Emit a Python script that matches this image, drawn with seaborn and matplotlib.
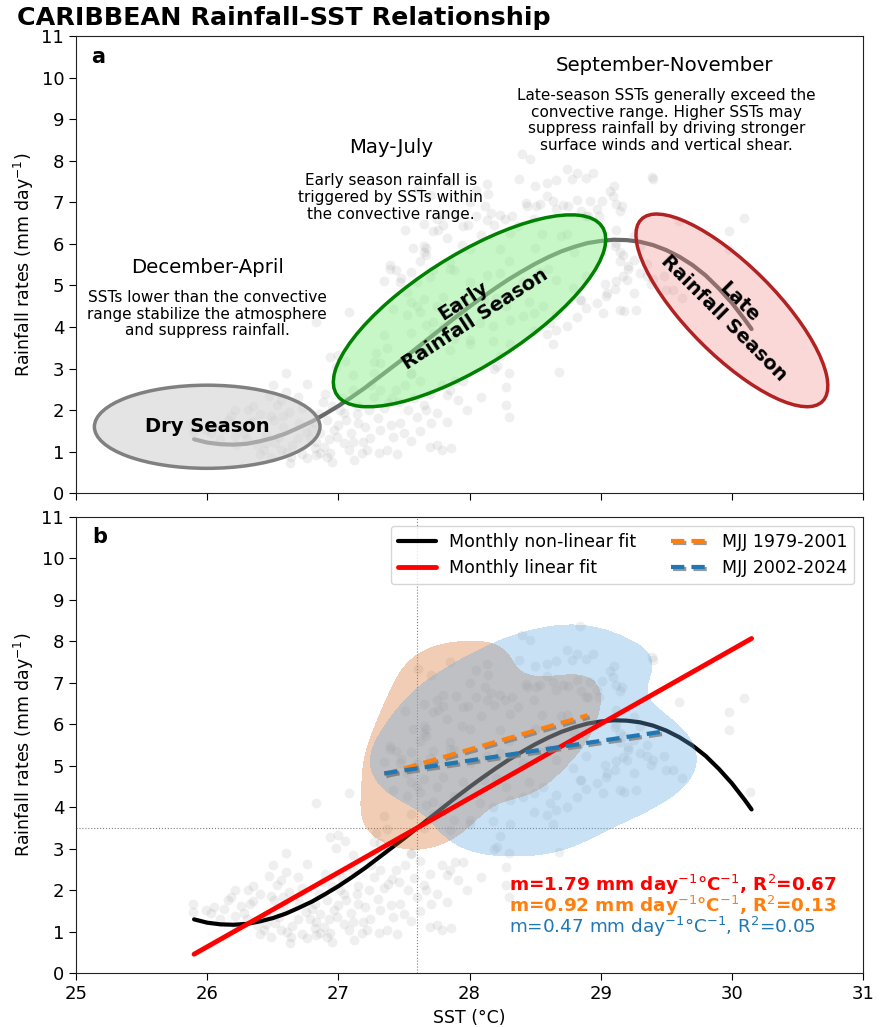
import numpy as np
import pandas as pd
import seaborn as sns
import matplotlib.pyplot as plt
import matplotlib.patheffects as pe
from matplotlib.patches import Ellipse
from matplotlib.colors import ListedColormap

# monthly points outside MJJ
other_sst = [25.89, 25.89, 25.99, 26.03, 26.16, 26.21, 26.31, 26.21, 26.26, 26.33,
             26.40, 26.49, 26.51, 26.38, 26.43, 26.49, 26.56, 26.61, 26.64, 26.63,
             26.69, 26.75, 26.78, 26.83, 26.82, 26.86, 26.91, 26.89, 26.97, 26.99,
             27.04, 27.06, 27.01, 27.04, 27.08, 27.11, 27.19, 27.22, 27.18, 27.15,
             27.23, 27.27, 27.32, 27.11, 27.11, 27.41, 27.38, 27.44, 27.27, 27.32,
             27.27, 27.47, 27.50, 27.42, 27.32, 27.24, 27.31, 27.37, 27.55, 27.51,
             27.53, 27.60, 27.65, 27.67, 27.79, 27.85, 27.83, 27.89, 27.95, 27.91,
             27.75, 27.71, 27.83, 27.70, 27.75, 27.79, 27.86, 26.91, 26.82, 26.86,
             26.76, 26.60, 26.56, 26.53, 26.69, 26.83, 27.08, 27.00, 27.05, 26.94,
             26.98, 26.94, 26.83, 27.29, 27.37, 26.13, 26.30, 26.45, 26.58, 26.70,
             26.62, 26.47, 26.35, 26.95, 27.15, 26.90, 26.72, 26.52, 26.40, 26.22,
             26.95, 27.12, 27.45, 27.55, 27.62,
             26.05, 26.10, 26.18, 26.28, 26.35, 26.45, 26.55, 26.58, 26.65, 26.72,
             26.80, 26.85, 26.88, 26.93, 27.00, 27.03, 27.10, 27.14, 27.20, 27.25,
             27.30, 27.35, 27.40, 27.46, 27.58, 27.62, 27.70, 26.60, 26.50, 26.76,
             29.60, 30.09, 29.98, 29.98, 29.62, 30.14, 29.15, 29.12, 29.25, 29.35,
             29.30, 29.21, 29.40, 29.38, 29.12, 29.11, 29.03, 29.04, 29.18, 29.27,
             29.55, 29.11, 29.15, 29.21, 29.25, 29.17, 29.12, 29.12, 29.17, 29.39,
             29.07, 29.01, 28.97, 28.85, 28.89, 29.09, 29.16, 28.82, 28.92, 28.71,
             28.64, 28.82, 28.89, 28.59, 28.66, 28.51, 28.43, 28.23, 28.32, 28.13,
             28.19, 28.12, 27.76, 27.67, 27.44, 27.48, 27.39, 28.89, 28.82, 28.66,
             28.68, 28.30, 28.19, 28.28, 28.30, 28.28, 28.09, 27.98, 28.21, 27.55,
             27.85, 28.00, 27.80, 27.95, 27.88, 27.95, 28.85,
             28.84, 28.40, 28.46, 28.23]
other_rain = [1.66, 1.48, 1.52, 1.46, 1.76, 2.00, 2.00, 1.37, 1.62, 1.68,
              1.90, 1.86, 1.76, 1.16, 1.04, 0.88, 1.04, 1.00, 0.88, 0.72,
              1.32, 1.48, 1.32, 1.24, 1.08, 0.96, 0.88, 1.12, 1.52, 1.36,
              1.92, 1.76, 2.00, 1.20, 1.04, 1.24, 1.24, 1.04, 0.96, 1.68,
              2.00, 2.32, 2.49, 2.85, 2.49, 2.28, 2.16, 2.49, 2.89, 3.13,
              3.17, 1.68, 1.44, 1.36, 1.52, 1.32, 0.96, 1.04, 2.89, 2.61,
              2.00, 1.84, 2.12, 2.00, 2.61, 2.49, 2.36, 2.69, 2.69, 2.24,
              1.92, 1.68, 1.72, 1.12, 1.16, 1.04, 1.08, 1.76, 1.68, 1.44,
              2.63, 2.44, 2.24, 2.12, 2.31, 4.11, 4.35, 3.33, 3.19, 3.29,
              3.03, 0.96, 0.92, 3.37, 3.49, 1.55, 1.30, 1.40, 1.60, 1.70,
              1.95, 2.35, 2.10, 2.10, 2.10, 2.40, 0.95, 1.22, 0.95, 1.15,
              0.75, 0.80, 0.95, 1.25, 1.50,
              1.60, 1.30, 1.85, 1.45, 1.75, 1.20, 1.35, 1.85, 1.15, 2.05,
              1.55, 1.90, 2.20, 1.30, 1.65, 2.30, 1.45, 1.90, 1.60, 2.60,
              1.80, 2.05, 1.65, 2.20, 2.30, 2.70, 2.40, 2.90, 2.60, 0.85,
              6.55, 6.63, 6.31, 5.87, 4.70, 4.38, 6.80, 6.95, 6.19, 5.51,
              5.31, 5.39, 5.15, 5.03, 5.11, 4.91, 5.03, 4.74, 4.38, 4.42,
              4.90, 5.94, 5.58, 5.46, 5.62, 5.22, 6.34, 6.02, 5.73, 7.62,
              7.28, 7.04, 6.84, 6.80, 6.67, 7.14, 6.90, 7.06, 7.02, 6.94,
              7.02, 7.70, 7.58, 7.46, 7.54, 6.90, 6.98, 6.70, 6.66, 6.58,
              6.46, 6.90, 6.34, 5.90, 5.37, 5.17, 5.49, 4.45, 4.25, 3.93,
              2.92, 2.89, 3.00, 2.56, 1.84, 2.12, 2.32, 2.00, 3.05, 2.88,
              3.45, 3.69, 4.01, 4.33, 5.38, 6.42, 4.66,
              8.38, 8.16, 8.04, 3.30]

# MJJ 1979-2001
early_sst = [27.35, 27.65, 27.55, 27.72, 27.88, 27.67, 27.52, 27.62, 27.72, 27.88,
             27.42, 27.60, 27.52, 27.65, 27.80, 27.95, 27.47, 27.60, 28.00, 28.13,
             27.39, 27.55, 27.72, 27.85, 27.57, 27.67, 27.65, 28.00, 27.83, 27.94,
             28.09, 27.51, 27.65, 27.80, 27.99, 27.90, 27.75, 28.00, 27.71, 27.61,
             28.13, 28.31, 28.44, 28.75, 28.90, 28.41, 28.54, 27.85, 28.05,
             28.30, 28.50, 28.70, 28.60, 28.20, 28.45, 28.80]
early_rain = [3.80, 3.50, 3.85, 3.85, 3.70, 4.05, 4.28, 4.36, 4.12, 4.28,
              4.43, 4.51, 4.84, 4.68, 4.72, 4.60, 5.08, 5.08, 5.08, 5.24,
              5.40, 5.33, 5.37, 5.57, 5.89, 5.73, 5.96, 5.88, 6.13, 5.97,
              6.21, 6.33, 6.49, 6.45, 6.45, 6.69, 6.60, 7.01, 7.18, 7.33,
              7.45, 6.25, 6.90, 6.92, 6.67, 5.08, 5.33, 7.50, 7.30,
              5.60, 5.90, 6.20, 5.40, 4.70, 4.60, 5.80]

# MJJ 2002-2024
late_sst = [27.35, 27.55, 27.62, 27.80, 28.05, 28.16, 28.27, 28.14, 28.38, 28.74,
            28.94, 28.78, 29.40, 29.10, 28.50, 28.59, 28.54, 28.66, 28.99, 28.37,
            28.49, 28.55, 28.74, 28.23, 28.23, 28.66, 28.79, 28.89, 28.11, 28.28,
            28.41, 28.56, 28.66, 28.84, 28.97, 29.05, 29.20, 29.25, 29.35, 29.48,
            29.50, 28.08, 28.18, 28.31, 28.49, 28.61, 28.74, 29.02, 29.15, 28.00,
            28.18, 28.31, 28.49, 28.59, 28.64, 29.15, 29.30,
            27.65, 27.72, 27.75, 27.70, 27.85]
late_rain = [5.10, 4.60, 5.60, 6.70, 6.67, 6.75, 6.59, 7.20, 7.56, 7.80,
             7.70, 7.56, 7.55, 7.40, 7.40, 7.16, 6.96, 6.84, 6.67, 6.43,
             6.59, 6.23, 6.23, 5.87, 5.31, 5.14, 4.94, 5.23, 4.66, 4.50,
             4.26, 4.50, 4.30, 4.66, 4.58, 4.82, 5.14, 4.82, 5.23, 5.23,
             4.90, 4.10, 4.02, 4.18, 4.34, 4.10, 4.02, 4.34, 4.42, 3.60,
             3.66, 3.60, 3.90, 3.82, 3.60, 5.80, 5.95,
             5.80, 6.30, 4.50, 5.20, 5.40]

# fitted curves
curve_sst = [25.9, 26.0, 26.1, 26.2, 26.3, 26.4, 26.5, 26.6, 26.7, 26.8,
             26.9, 27.0, 27.1, 27.2, 27.3, 27.4, 27.5, 27.6, 27.7, 27.8,
             27.9, 28.0, 28.1, 28.2, 28.3, 28.4, 28.5, 28.6, 28.7, 28.8,
             28.9, 29.0, 29.1, 29.2, 29.3, 29.4, 29.5, 29.6, 29.7, 29.8,
             29.9, 30.0, 30.1, 30.15]
curve_rain = [1.30, 1.22, 1.18, 1.17, 1.19, 1.25, 1.33, 1.44, 1.58, 1.73,
              1.91, 2.10, 2.31, 2.53, 2.77, 3.01, 3.25, 3.50, 3.75, 4.00,
              4.25, 4.49, 4.72, 4.94, 5.15, 5.34, 5.52, 5.68, 5.82, 5.93,
              6.02, 6.07, 6.10, 6.09, 6.05, 5.97, 5.85, 5.69, 5.49, 5.24,
              4.93, 4.58, 4.17, 3.95]
lin_sst = [25.9, 30.15]
lin_rain = [0.46, 8.07]
early_fit_sst = [27.35, 28.90]
early_fit_rain = [4.80, 6.22]
late_fit_sst = [27.35, 29.50]
late_fit_rain = [4.82, 5.84]

all_sst = other_sst + early_sst + late_sst
all_rain = other_rain + early_rain + late_rain
early_df = pd.DataFrame({'sst': early_sst, 'rain': early_rain})
late_df = pd.DataFrame({'sst': late_sst, 'rain': late_rain})

sns.set_style("ticks")
plt.rcParams['font.family'] = ['DejaVu Sans']
plt.rcParams.update({'text.color': 'black', 'axes.labelcolor': 'black',
                     'xtick.color': 'black', 'ytick.color': 'black',
                     'axes.edgecolor': '#222222'})

ORANGE = '#d4702a'
BLUE = '#62a9e2'

fig = plt.figure(figsize=(8.86, 10.27), dpi=100)
ax_a = fig.add_axes([0.0858, 0.5197, 0.8883, 0.4452])
ax_b = fig.add_axes([0.0858, 0.0523, 0.8883, 0.4443])

for ax in (ax_a, ax_b):
    sns.scatterplot(x=all_sst, y=all_rain, color='gray', alpha=0.12, s=50,
                    linewidth=0, ax=ax, zorder=1)
    ax.set_xlim(25, 31)
    ax.set_ylim(0, 11)
    ax.set_yticks(range(0, 12))
    ax.set_xticks(range(25, 32))
    ax.tick_params(labelsize=13, length=5)
    ax.set_ylabel(r'Rainfall rates (mm day$^{-1}$)', fontsize=12.5)

# ---- panel a
sns.lineplot(x=curve_sst, y=curve_rain, color='dimgray', lw=3, ax=ax_a, zorder=2)
ax_a.add_patch(Ellipse((26.0, 1.6), 1.72, 2.0, angle=0, facecolor='lightgray',
                       alpha=0.6, edgecolor='none', zorder=3))
ax_a.add_patch(Ellipse((26.0, 1.6), 1.72, 2.0, angle=0, facecolor='none',
                       edgecolor='gray', lw=2.5, zorder=4))
ax_a.add_patch(Ellipse((28.0, 4.39), 4.89, 1.31, angle=70, facecolor='lightgreen',
                       alpha=0.5, edgecolor='none', zorder=3))
ax_a.add_patch(Ellipse((28.0, 4.39), 4.89, 1.31, angle=70, facecolor='none',
                       edgecolor='green', lw=2.5, zorder=4))
ax_a.add_patch(Ellipse((30.0, 4.40), 4.78, 0.88, angle=104.4, facecolor='lightcoral',
                       alpha=0.3, edgecolor='none', zorder=3))
ax_a.add_patch(Ellipse((30.0, 4.40), 4.78, 0.88, angle=104.4, facecolor='none',
                       edgecolor='firebrick', lw=2.5, zorder=4))

ax_a.text(26.0, 1.6, 'Dry Season', fontsize=14, fontweight='bold',
          ha='center', va='center', zorder=5)
ax_a.text(28.0, 4.4, 'Early\nRainfall Season', fontsize=14, fontweight='bold',
          ha='center', va='center', rotation=33, zorder=5)
ax_a.text(30.0, 4.4, 'Late\nRainfall Season', fontsize=14, fontweight='bold',
          ha='center', va='center', rotation=-45, zorder=5)

ax_a.text(26.0, 5.42, 'December-April', fontsize=14.2, ha='center', va='center')
ax_a.text(26.0, 4.31, 'SSTs lower than the convective\nrange stabilize the atmosphere\n'
          'and suppress rainfall.', fontsize=11, ha='center', va='center',
          linespacing=1.15)
ax_a.text(27.4, 8.31, 'May-July', fontsize=14.2, ha='center', va='center')
ax_a.text(27.4, 7.12, 'Early season rainfall is\ntriggered by SSTs within\n'
          'the convective range.', fontsize=11, ha='center', va='center',
          linespacing=1.15)
ax_a.text(29.49, 10.28, 'September-November', fontsize=14.2, ha='center', va='center')
ax_a.text(29.5, 8.97, 'Late-season SSTs generally exceed the\nconvective range. Higher SSTs may\n'
          'suppress rainfall by driving stronger\nsurface winds and vertical shear.',
          fontsize=11, ha='center', va='center', linespacing=1.15)
ax_a.text(25.17, 10.5, 'a', fontsize=15, fontweight='bold', ha='center', va='center')
ax_a.set_xticklabels([])

# ---- panel b
sns.lineplot(x=curve_sst, y=curve_rain, color='black', lw=3,
             label='Monthly non-linear fit', ax=ax_b, zorder=2)
sns.kdeplot(data=early_df, x='sst', y='rain', fill=True, levels=[0.1, 1],
            bw_adjust=0.95, cmap=ListedColormap([ORANGE]), alpha=0.35,
            ax=ax_b, zorder=3)
sns.kdeplot(data=late_df, x='sst', y='rain', fill=True, levels=[0.1, 1],
            bw_adjust=0.95, cmap=ListedColormap([BLUE]), alpha=0.35,
            ax=ax_b, zorder=3)
sns.lineplot(x=lin_sst, y=lin_rain, color='red', lw=3.5,
             label='Monthly linear fit', ax=ax_b, zorder=5)
shadow = [pe.SimpleLineShadow(offset=(1.5, -1.5), shadow_color='gray', alpha=0.8),
          pe.Normal()]
sns.lineplot(x=early_fit_sst, y=early_fit_rain, color='#ff7f0e', lw=3,
             linestyle=(0, (3.2, 1.7)), path_effects=shadow,
             label='MJJ 1979-2001', ax=ax_b, zorder=6)
sns.lineplot(x=late_fit_sst, y=late_fit_rain, color='#1f77b4', lw=3,
             linestyle=(0, (3.2, 1.7)), path_effects=shadow,
             label='MJJ 2002-2024', ax=ax_b, zorder=6)

ax_b.axvline(27.6, color='gray', ls=':', lw=0.8, zorder=1)
ax_b.axhline(3.5, color='gray', ls=':', lw=0.8, zorder=1)

ax_b.legend(loc='upper right', ncol=2, fontsize=12.5, handlelength=2.2,
            handletextpad=0.75, columnspacing=2.0)

ax_b.text(28.3, 2.12, r'm=1.79 mm day$^{-1}$°C$^{-1}$, R$^{2}$=0.67', color='red',
          fontsize=13.2, fontweight='bold', va='center')
ax_b.text(28.3, 1.62, r'm=0.92 mm day$^{-1}$°C$^{-1}$, R$^{2}$=0.13', color='#ff7f0e',
          fontsize=13.2, fontweight='bold', va='center')
ax_b.text(28.3, 1.11, r'm=0.47 mm day$^{-1}$°C$^{-1}$, R$^{2}$=0.05', color='#1f77b4',
          fontsize=13.2, va='center')
ax_b.text(25.18, 10.52, 'b', fontsize=15, fontweight='bold', ha='center', va='center')
ax_b.set_xlabel('SST (°C)', fontsize=12.5)

fig.text(0.019, 0.9825, 'CARIBBEAN Rainfall-SST Relationship', fontsize=18.3,
         fontweight='bold', ha='left', va='center')

fig.savefig('out.png', dpi=100)
